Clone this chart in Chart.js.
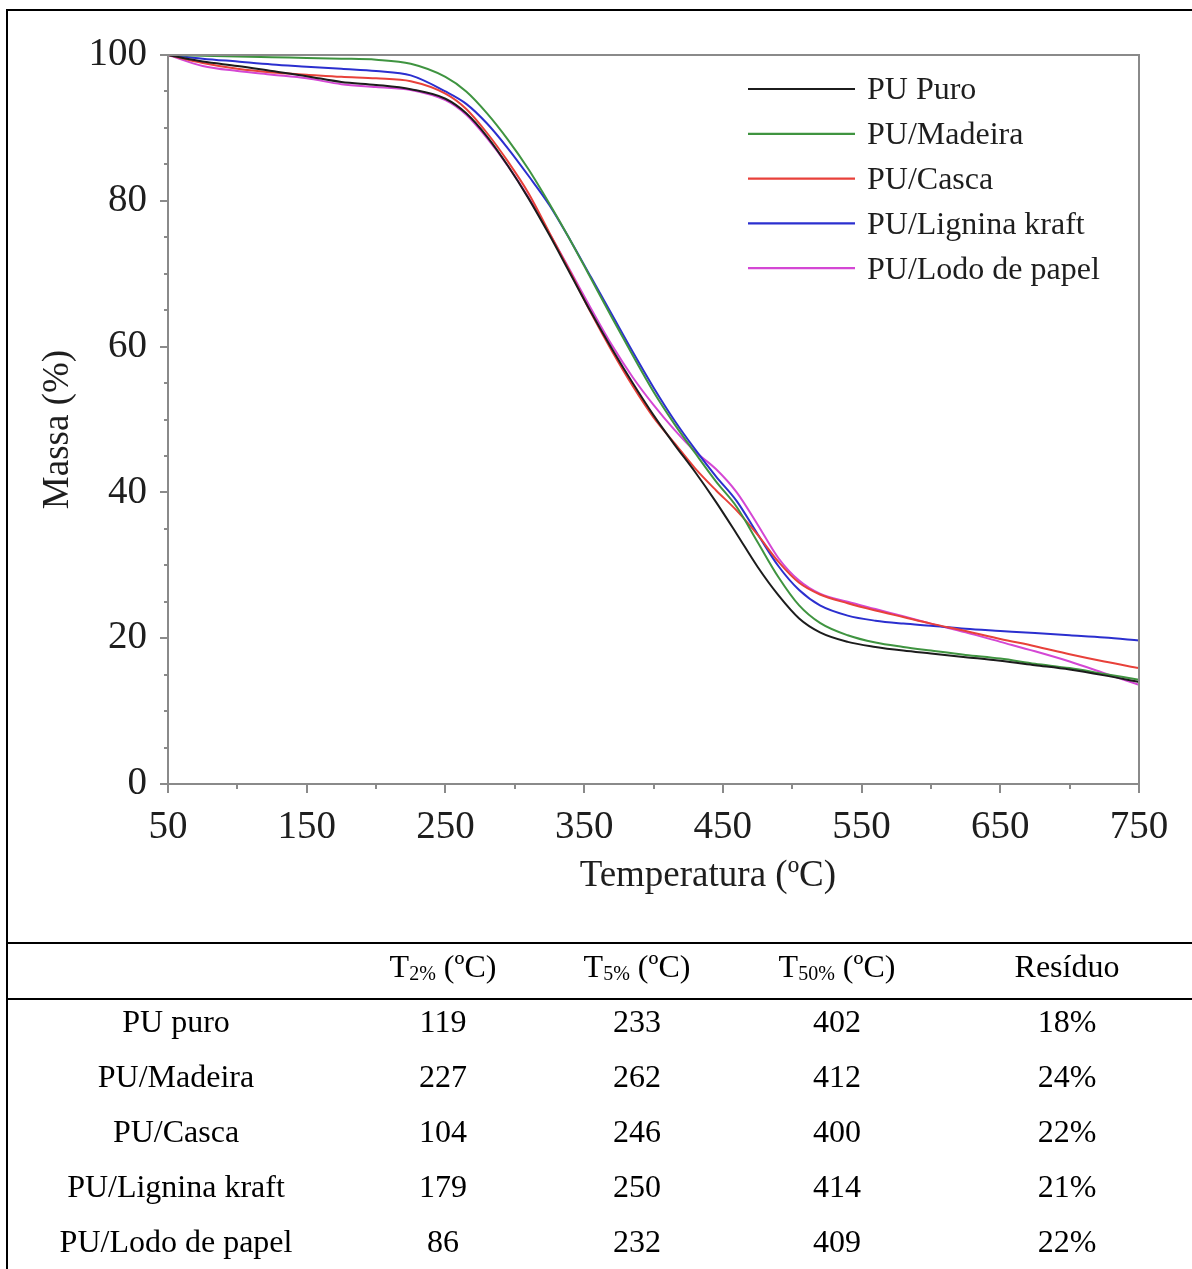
<!DOCTYPE html>
<html>
<head>
<meta charset="utf-8">
<script src="https://cdn.jsdelivr.net/npm/chart.js@4.4.1/dist/chart.umd.min.js"></script>
<style>
html,body{margin:0;padding:0;background:#fff;}
body{width:1192px;height:1269px;position:relative;overflow:hidden;font-family:'Liberation Serif','Times New Roman',serif;}
#c{position:absolute;left:0;top:0;}
.ln{position:absolute;background:#000;}
#tbl{position:absolute;left:8px;top:945px;border-collapse:collapse;table-layout:fixed;width:1184px;font-size:32px;color:#000;}
#tbl td{padding:0;text-align:center;vertical-align:middle;white-space:nowrap;}
#tbl tr.h{height:54px;}
#tbl tr.h td{padding-bottom:12px;padding-top:0;}
#tbl tr.r{height:55px;}
#tbl tr.r td{padding-bottom:10px;}
.sub{font-size:20px;position:relative;top:3px;}
</style>
</head>
<body>
<canvas id="c" width="1192" height="940"></canvas>
<div class="ln" style="left:7px;top:9px;width:1185px;height:2px;"></div>
<div class="ln" style="left:6px;top:9px;width:2px;height:1260px;"></div>
<div class="ln" style="left:7px;top:942px;width:1185px;height:2px;"></div>
<div class="ln" style="left:7px;top:998px;width:1185px;height:2px;"></div>
<table id="tbl">
<colgroup><col style="width:336px"><col style="width:198px"><col style="width:190px"><col style="width:210px"><col style="width:250px"></colgroup>
<tbody id="tb"></tbody>
</table>
<script>
// ---- Chart data ----
const temperatures = [50,75,100,125,150,175,200,225,250,265,280,295,310,325,340,355,370,385,400,415,430,445,460,475,490,505,520,540,560,580,600,625,650,675,700,725,750];
const massPuro    = [100,99.1,98.5,97.8,97.1,96.3,95.9,95.3,94.0,92.0,88.8,84.8,80.3,75.3,70.0,64.7,59.7,55.0,50.6,46.6,42.8,38.7,34.3,29.8,25.9,22.7,20.8,19.5,18.8,18.3,17.9,17.4,16.9,16.3,15.7,14.9,14.0];
const massMadeira = [100,99.9,99.8,99.7,99.6,99.5,99.35,98.8,97.0,95.0,92.0,88.4,84.3,79.6,74.6,69.3,64.0,58.8,53.8,49.4,45.4,41.5,38.0,33.2,28.4,24.5,22.1,20.4,19.4,18.8,18.3,17.7,17.2,16.5,15.9,15.1,14.3];
const massCasca   = [100,98.9,98.1,97.6,97.3,97.0,96.8,96.4,94.7,92.6,89.3,85.4,81.0,75.6,70.2,64.6,59.4,54.6,50.3,46.8,43.3,40.3,37.5,34.2,30.5,27.6,26.0,24.8,23.8,22.9,22.0,21.0,19.9,18.9,17.8,16.8,15.9];
const massLignina = [100,99.5,99.1,98.7,98.4,98.1,97.8,97.2,95.0,93.3,90.6,87.2,83.4,79.4,74.6,69.5,64.4,59.3,54.4,49.9,45.9,42.2,38.8,34.3,29.9,26.6,24.5,23.1,22.4,22.0,21.7,21.3,21.0,20.7,20.4,20.1,19.7];
const massLodo    = [100,98.5,97.8,97.3,96.8,96.0,95.6,95.2,93.8,91.8,88.6,84.8,80.4,75.5,70.4,65.2,60.2,55.8,52.0,48.6,45.6,43.2,40.0,35.6,31.0,27.9,26.1,25.0,24.0,23.0,22.0,20.8,19.5,18.2,16.8,15.2,13.6];
const seriesLabels = ['PU Puro','PU/Madeira','PU/Casca','PU/Lignina kraft','PU/Lodo de papel'];
const seriesMass = [massPuro, massMadeira, massCasca, massLignina, massLodo];
const seriesColors = ['#1c1c1c','#3f9440','#e8413a','#2b2fcf','#d447d4'];
const xTitle = 'Temperatura (ºC)';
const yTitle = 'Massa (%)';

// ---- Table data ----
const tableSamples = ['PU puro','PU/Madeira','PU/Casca','PU/Lignina kraft','PU/Lodo de papel'];
const t2  = [119,227,104,179,86];
const t5  = [233,262,246,250,232];
const t50 = [402,412,400,414,409];
const residue = ['18%','24%','22%','21%','22%'];
const headerSubs = ['2%','5%','50%'];

// build table
const tb = document.getElementById('tb');
let html = '<tr class="h"><td></td>';
headerSubs.forEach(s => { html += '<td>T<span class="sub">' + s + '</span> (ºC)</td>'; });
html += '<td>Resíduo</td></tr>';
tableSamples.forEach((n,i) => {
  html += '<tr class="r"><td>' + n + '</td><td>' + t2[i] + '</td><td>' + t5[i] + '</td><td>' + t50[i] + '</td><td>' + residue[i] + '</td></tr>';
});
tb.innerHTML = html;

const FONT = "'Liberation Serif','Times New Roman',serif";

const decorPlugin = {
  id: 'decor',
  afterDraw(chart) {
    const {ctx, chartArea: a, scales: {x, y}} = chart;
    ctx.save();
    ctx.strokeStyle = '#8a8a8a';
    ctx.lineWidth = 2;
    ctx.beginPath();
    y.ticks.forEach(t => {
      const py = Math.round(y.getPixelForValue(t.value));
      const len = (t.value % 20 === 0) ? 8 : 4;
      ctx.moveTo(a.left - len, py); ctx.lineTo(a.left, py);
    });
    x.ticks.forEach(t => {
      const px = Math.round(x.getPixelForValue(t.value));
      const len = ((t.value - 50) % 100 === 0) ? 9 : 5;
      ctx.moveTo(px, a.bottom); ctx.lineTo(px, a.bottom + len);
    });
    ctx.stroke();
    ctx.strokeRect(a.left, a.top, a.right - a.left, a.bottom - a.top);

    // axis titles
    ctx.fillStyle = '#1e1e1e';
    ctx.font = '37px ' + FONT;
    ctx.textAlign = 'center';
    ctx.textBaseline = 'middle';
    ctx.fillText(x.options.title.text, a.left + (a.right - a.left) * 0.556, a.bottom + 92);
    ctx.save();
    ctx.translate(58, (a.top + a.bottom) / 2 + 10);
    ctx.rotate(-Math.PI / 2);
    ctx.fillText(y.options.title.text, 0, 0);
    ctx.restore();

    // legend
    ctx.font = '32px ' + FONT;
    ctx.textAlign = 'left';
    chart.data.datasets.forEach((d, i) => {
      const ly = a.top + 34 + i * 44.8;
      ctx.strokeStyle = d.borderColor;
      ctx.lineWidth = 2.2;
      ctx.beginPath();
      ctx.moveTo(a.right - 391, ly); ctx.lineTo(a.right - 284, ly);
      ctx.stroke();
      ctx.fillStyle = '#1e1e1e';
      ctx.fillText(d.label, a.right - 272, ly + 2);
    });
    ctx.restore();
  }
};

new Chart(document.getElementById('c'), {
  type: 'line',
  data: {
    datasets: seriesLabels.map((lab, i) => ({
      label: lab,
      data: temperatures.map((t, j) => ({x: t, y: seriesMass[i][j]})),
      borderColor: seriesColors[i],
      borderWidth: 2,
      pointRadius: 0,
      fill: false,
      cubicInterpolationMode: 'monotone'
    }))
  },
  options: {
    responsive: false,
    animation: false,
    devicePixelRatio: 1,
    layout: {padding: {top: 55, right: 53, bottom: 0, left: 0}},
    plugins: {legend: {display: false}, tooltip: {enabled: false}},
    scales: {
      x: {
        type: 'linear', min: 50, max: 750,
        afterFit: s => { s.height = 156; },
        border: {display: false},
        grid: {display: false, drawTicks: false},
        title: {display: false, text: xTitle},
        ticks: {
          stepSize: 50, autoSkip: false, maxRotation: 0, padding: 20,
          color: '#1e1e1e', font: {family: FONT, size: 39},
          callback: v => ((v - 50) % 100 === 0 ? String(v) : '')
        }
      },
      y: {
        type: 'linear', min: 0, max: 100,
        afterFit: s => { s.width = 168; },
        border: {display: false},
        grid: {display: false, drawTicks: false},
        title: {display: false, text: yTitle},
        ticks: {
          stepSize: 5, autoSkip: false, padding: 21,
          color: '#1e1e1e', font: {family: FONT, size: 39},
          callback: v => (v % 20 === 0 ? String(v) : '')
        }
      }
    }
  },
  plugins: [decorPlugin]
});
</script>
</body>
</html>
